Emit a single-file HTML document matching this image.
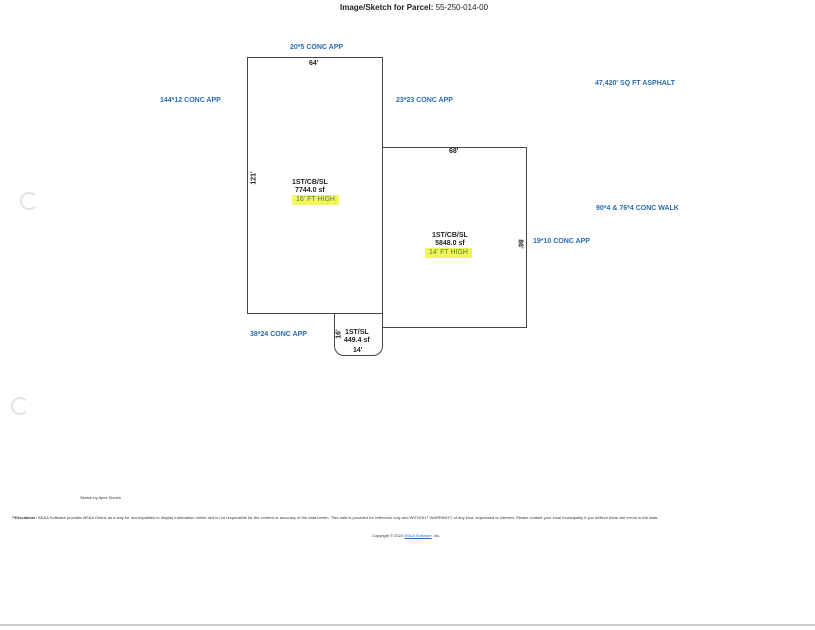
<!DOCTYPE html>
<html><head><style>
body{margin:0;width:815px;height:630px;background:#fff;position:relative;overflow:hidden;font-family:"Liberation Sans",sans-serif}
.t{position:absolute;white-space:nowrap;font-size:7px;line-height:8px}
.b{color:#2b6cb0;font-weight:bold}
.k{color:#222;font-weight:bold;text-align:center}
.h{background:#f3f55a;color:#4a8a1a;padding:1px 4px}
.box{position:absolute;border:1px solid #444;box-sizing:border-box}
</style></head><body>
<div class="t" style="left:340px;top:4px;font-size:8px;color:#222"><b>Image/Sketch for Parcel:</b> 55-250-014-00</div>
<div class="box" style="left:247px;top:57px;width:136px;height:257px"></div>
<div class="box" style="left:382px;top:147px;width:145px;height:181px"></div>
<div class="box" style="left:334px;top:313px;width:49px;height:43px;border-top:none;border-radius:0 0 10px 10px"></div>
<div class="t b" style="left:290px;top:44px">20*5 CONC APP</div>
<div class="t b" style="left:160px;top:97px">144*12 CONC APP</div>
<div class="t b" style="left:396px;top:97px">23*23 CONC APP</div>
<div class="t b" style="left:595px;top:80px">47,420' SQ FT ASPHALT</div>
<div class="t b" style="left:596px;top:205px">90*4 &amp; 76*4 CONC WALK</div>
<div class="t b" style="left:533px;top:238px">19*10 CONC APP</div>
<div class="t b" style="left:250px;top:331px">38*24 CONC APP</div>
<div class="t k" style="left:309px;top:60px">64'</div>
<div class="t k" style="left:449px;top:148px">68'</div>
<div class="t k" style="left:248px;top:174px;transform:rotate(-90deg)">121'</div>
<div class="t k" style="left:515px;top:240px;transform:rotate(90deg)">86'</div>
<div class="t k" style="left:335px;top:330px;transform:rotate(-90deg)">16'</div>
<div class="t k" style="left:353px;top:347px">14'</div>
<div class="t k" style="left:292px;top:179px">1ST/CB/SL<br>7744.0 sf</div>
<div class="t h" style="left:292px;top:195px">16' FT HIGH</div>
<div class="t k" style="left:432px;top:232px">1ST/CB/SL<br>5848.0 sf</div>
<div class="t h" style="left:425px;top:248px">14' FT HIGH</div>
<div class="t k" style="left:344px;top:329px">1ST/SL<br>449.4 sf</div>
<div class="t" style="left:80px;top:494px;font-size:4px;color:#333">Sketch by Apex Sketch</div>
<div class="t" style="left:12px;top:514px;font-size:4.05px;color:#333"><b>**Disclaimer:</b> BS&amp;A Software provides BS&amp;A Online as a way for municipalities to display information online and is not responsible for the content or accuracy of the data herein. This data is provided for reference only and WITHOUT WARRANTY of any kind, expressed or inferred. Please contact your local municipality if you believe there are errors in the data.</div>
<div class="t" style="left:372px;top:532px;font-size:4px;color:#333">Copyright © 2022 <span style="color:#2b6cb0;text-decoration:underline">BS&amp;A Software</span>, Inc.</div>
<div style="position:absolute;left:20px;top:192px;width:14px;height:14px;border:2px solid #e2e2e2;border-right-color:transparent;border-radius:50%"></div>
<div style="position:absolute;left:11px;top:397px;width:14px;height:14px;border:2px solid #e2e2e2;border-right-color:transparent;border-radius:50%"></div>
<div style="position:absolute;left:0;top:624px;width:815px;height:2px;background:#ccc"></div>
</body></html>
